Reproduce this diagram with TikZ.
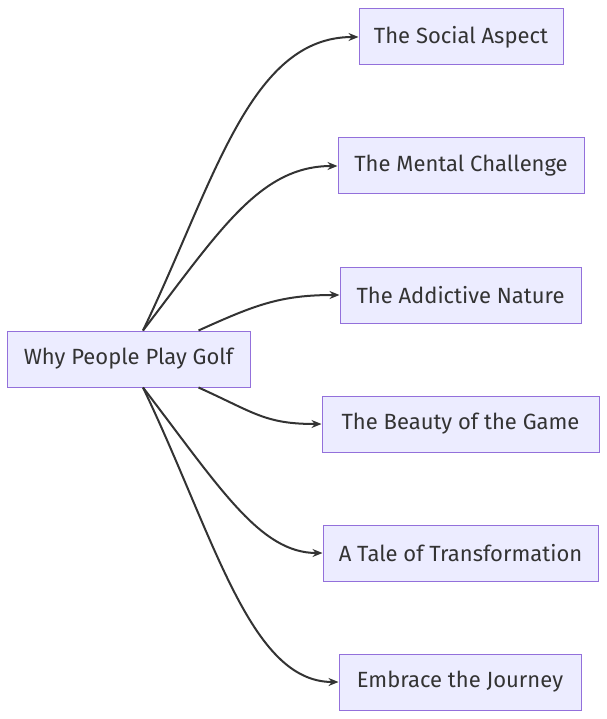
\documentclass[tikz,border=0pt]{standalone}
\usepackage{fontspec}
\setmainfont{Fira Sans}
\usetikzlibrary{arrows.meta}
\definecolor{nfill}{HTML}{ECECFF}
\definecolor{nborder}{HTML}{9370DB}
\definecolor{edge}{HTML}{333333}
\begin{document}
\begin{tikzpicture}[x=1pt,y=-1pt,
  box/.style={draw=nborder,fill=nfill,line width=1pt,minimum height=56pt,inner xsep=0pt,font=\fontsize{22}{24}\selectfont,text=edge},
  con/.style={draw=edge,line width=2pt,-{Stealth[length=10pt,width=8pt]}}]
\useasboundingbox (0,0) rectangle (606,719);
\node[box,minimum width=243pt] (root) at (128.5,359) {Why People Play Golf};
\node[box,minimum width=204pt] (a) at (461,37) {The Social Aspect};
\node[box,minimum width=246pt] (b) at (461,166) {The Mental Challenge};
\node[box,minimum width=241pt] (c) at (460.5,295) {The Addictive Nature};
\node[box,minimum width=277pt] (d) at (460.5,424) {The Beauty of the Game};
\node[box,minimum width=275pt] (e) at (460.5,553) {A Tale of Transformation};
\node[box,minimum width=242pt] (f) at (460,682) {Embrace the Journey};
\coordinate (t1) at ([xshift=14.5pt]root.north);
\coordinate (t2) at ([xshift=70pt]root.north);
\coordinate (b1) at ([xshift=14.5pt]root.south);
\coordinate (b2) at ([xshift=70pt]root.south);
\draw[con] (t1) .. controls (215,180) and (250,37) .. (a.west);
\draw[con] (t1) .. controls (220,230) and (260,166) .. (b.west);
\draw[con] (t2) .. controls (255,305) and (280,295) .. (c.west);
\draw[con] (b2) .. controls (255,413) and (265,424) .. (d.west);
\draw[con] (b1) .. controls (220,488) and (260,553) .. (e.west);
\draw[con] (b1) .. controls (215,538) and (250,682) .. (f.west);
\end{tikzpicture}
\end{document}
